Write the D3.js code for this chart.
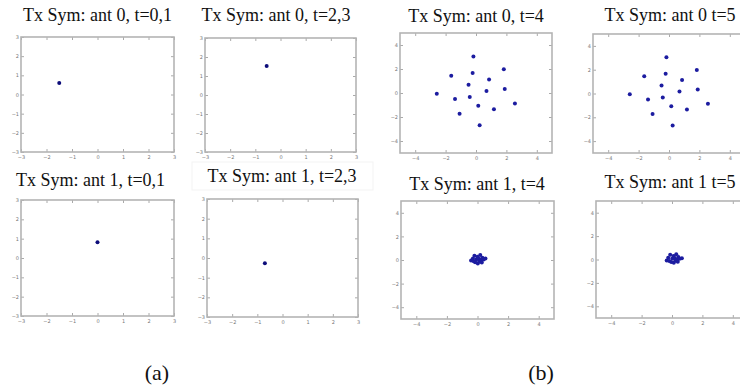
<!DOCTYPE html>
<html>
<head>
<meta charset="utf-8">
<script src="https://cdn.jsdelivr.net/npm/d3@7"></script>
<style>
  body { margin: 0; background: #fff; }
  .title { font-family: "Liberation Serif", "Times New Roman", serif; font-size: 18px; fill: #111; }
  .sub { font-family: "Liberation Serif", "Times New Roman", serif; font-size: 22px; fill: #111; }
  .tick text { font-family: "DejaVu Sans", sans-serif; font-size: 5px; fill: #777; }
  .tick line { stroke: #aaa; }
</style>
</head>
<body>
<div id="chart"></div>
<script>
// titles of the 8 constellation plots
var titles = ["Tx Sym: ant 0, t=0,1", "Tx Sym: ant 0, t=2,3", "Tx Sym: ant 0, t=4", "Tx Sym: ant 0 t=5",
              "Tx Sym: ant 1, t=0,1", "Tx Sym: ant 1, t=2,3", "Tx Sym: ant 1, t=4", "Tx Sym: ant 1 t=5"];

var ticksSmall = [-3, -2, -1, 0, 1, 2, 3];
var ticksLarge = [-4, -2, 0, 2, 4];

// symbols (I, Q)
var ant0t01 = [[-1.5, 0.6]];
var ant0t23 = [[-0.55, 1.52]];
var ant1t01 = [[0.0, 0.82]];
var ant1t23 = [[-0.7, -0.27]];

var ant0t4 = [[-0.17, 3.04], [1.83, 1.97], [-1.63, 1.44], [-0.22, 1.66],
              [0.86, 1.13], [-0.49, 0.68], [0.69, 0.17], [1.89, 0.34],
              [-2.58, -0.06], [-1.38, -0.51], [-0.41, -0.34], [0.15, -1.07],
              [1.18, -1.35], [2.56, -0.87], [-1.08, -1.72], [0.24, -2.68]];
var ant0t5 = [[-0.17, 3.04], [1.83, 1.97], [-1.63, 1.44], [-0.22, 1.66],
              [0.86, 1.13], [-0.49, 0.68], [0.69, 0.17], [1.89, 0.34],
              [-2.58, -0.06], [-1.38, -0.51], [-0.41, -0.34], [0.15, -1.07],
              [1.18, -1.35], [2.56, -0.87], [-1.08, -1.72], [0.24, -2.68]];

var ant1t4 = [[-0.42, -0.05], [-0.3, 0.12], [-0.2, 0.35], [-0.15, -0.2], [-0.08, 0.05],
              [0.0, 0.28], [0.02, -0.3], [0.08, 0.1], [0.12, -0.12], [0.18, 0.42],
              [0.22, 0.02], [0.28, -0.22], [0.32, 0.2], [0.4, 0.05], [0.52, 0.12], [-0.25, -0.1]];
var ant1t5 = [[-0.35, -0.08], [-0.25, 0.15], [-0.12, 0.4], [-0.05, -0.22], [0.02, 0.08],
              [0.1, 0.3], [0.12, -0.28], [0.18, 0.12], [0.22, -0.1], [0.28, 0.45],
              [0.32, 0.0], [0.38, -0.2], [0.42, 0.22], [0.5, 0.06], [0.65, 0.1], [-0.18, -0.12]];

var series = [ant0t01, ant0t23, ant0t4, ant0t5, ant1t01, ant1t23, ant1t4, ant1t5];
var limits = [3, 3, 5, 5, 3, 3, 5, 5];
var subLabels = ["(a)", "(b)"];

var width = 740, height = 387;

// frame boxes [x0, y0, x1, y1] and title anchor [cx, baseline]
var frames = [[21, 37, 174, 152], [205, 38, 356, 152], [400, 33, 552, 153], [593, 34, 745, 153],
              [21, 200, 174, 316], [207, 199, 358, 317], [401, 201, 554, 319], [596, 201, 748, 318]];
var titlePos = [[97.5, 21], [276, 21], [476, 22], [670, 21],
                [90.5, 186], [282, 182], [477, 190], [670, 188]];

var svg = d3.select("#chart").append("svg")
    .attr("width", width)
    .attr("height", height);

// faint border of the pasted title image in panel 6
svg.append("rect")
    .attr("x", 192).attr("y", 162).attr("width", 181).attr("height", 28)
    .attr("fill", "none").attr("stroke", "#f3f3f3").attr("stroke-width", 1);

series.forEach(function(pts, i) {
    var f = frames[i], lim = limits[i];
    var ticks = lim == 3 ? ticksSmall : ticksLarge;
    var x = d3.scaleLinear().domain([-lim, lim]).range([f[0], f[2]]);
    var y = d3.scaleLinear().domain([-lim, lim]).range([f[3], f[1]]);
    var g = svg.append("g").attr("class", "panel");

    g.append("g").attr("transform", "translate(0," + f[3] + ")")
        .call(d3.axisBottom(x).tickValues(ticks).tickSize(-3).tickPadding(3).tickFormat(d3.format("d")));
    g.append("g").attr("transform", "translate(" + f[0] + ",0)")
        .call(d3.axisLeft(y).tickValues(ticks).tickSize(-3).tickPadding(2).tickFormat(d3.format("d")));
    g.append("g").attr("transform", "translate(0," + f[1] + ")")
        .call(d3.axisTop(x).tickValues(ticks).tickSize(-3).tickFormat(""));
    g.append("g").attr("transform", "translate(" + f[2] + ",0)")
        .call(d3.axisRight(y).tickValues(ticks).tickSize(-3).tickFormat(""));
    g.selectAll(".domain").remove();

    g.append("rect")
        .attr("x", f[0]).attr("y", f[1])
        .attr("width", f[2] - f[0]).attr("height", f[3] - f[1])
        .attr("fill", "none").attr("stroke", "#b4b4b4").attr("stroke-width", 1.6);

    g.selectAll("circle")
        .data(pts)
        .enter().append("circle")
            .attr("cx", d => x(d[0]))
            .attr("cy", d => y(d[1]))
            .attr("r", lim == 3 ? 2 : 2)
            .attr("fill", lim == 3 ? "#0d0d7a" : "#1c1ca0");

    svg.append("text")
        .attr("class", "title")
        .attr("x", titlePos[i][0])
        .attr("y", titlePos[i][1])
        .attr("text-anchor", "middle")
        .text(titles[i]);
});

svg.selectAll("text.sub")
    .data(subLabels)
    .enter().append("text")
        .attr("class", "sub")
        .attr("x", (d, i) => i == 0 ? 157 : 541)
        .attr("y", 380)
        .attr("text-anchor", "middle")
        .text(d => d);
</script>
</body>
</html>
